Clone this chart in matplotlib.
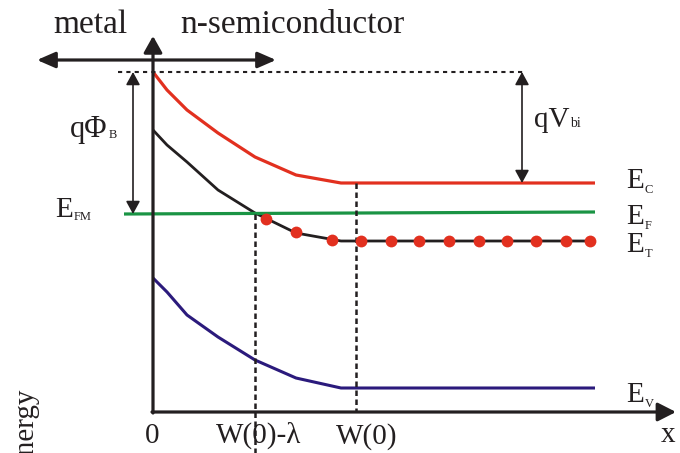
import matplotlib
matplotlib.use("Agg")
import matplotlib.pyplot as plt

plt.rcParams['font.family'] = ['Liberation Serif', 'DejaVu Serif']

# band-bending profile near the metal/n-semiconductor contact
# x measured from the interface, energy measured from the bottom axis
x_band = [0, 14, 34, 65, 102, 143, 188, 442]
E_c = [340, 322, 302, 279, 255, 237, 229, 229]
E_t = [282, 267, 250, 222, 199, 179, 171, 171]
E_v = [134, 120, 97, 75, 52, 34, 24, 24]

x_fermi = [-29, 442]
E_fermi = [198, 200]

# occupied trap states along E_T
x_traps = [113, 143, 179, 208, 238, 266, 296, 326, 354, 383, 413, 437]
E_traps = [193, 180, 172, 171, 171, 171, 171, 171, 171, 171, 171, 171]

x_W0_lambda = 102
x_W0 = 203
E_vacuum = 340

red = '#e2301f'
green = '#1a9444'
navy = '#2b1a7c'
ink = '#231f20'

fig = plt.figure(figsize=(6.8, 4.53), dpi=100)
ax = fig.add_axes([0, 0, 1, 1])
ax.set_xlim(-153, 527)
ax.set_ylim(-41, 412)
ax.axis('off')

# energy and position axes
ax.annotate('', xy=(0, 376), xytext=(0, -1),
            arrowprops=dict(arrowstyle='-|>,head_length=0.5,head_width=0.28',
                            mutation_scale=20, lw=2.3, color=ink,
                            shrinkA=0, shrinkB=0))
ax.annotate('', xy=(523, 0), xytext=(-1, 0),
            arrowprops=dict(arrowstyle='-|>,head_length=0.55,head_width=0.28',
                            mutation_scale=20, lw=2.3, color=ink,
                            shrinkA=0, shrinkB=0))
ax.annotate('', xy=(-116, 352), xytext=(123, 352),
            arrowprops=dict(arrowstyle='<|-|>,head_length=0.55,head_width=0.24',
                            mutation_scale=20, lw=2.3, color=ink,
                            shrinkA=0, shrinkB=0))

# bands
ax.plot(x_band, E_c, color=red, lw=2.3, solid_capstyle='butt')
ax.plot(x_band, E_t, color=ink, lw=2.0, solid_capstyle='butt')
ax.plot(x_band, E_v, color=navy, lw=2.2, solid_capstyle='butt')
ax.plot(x_fermi, E_fermi, color=green, lw=2.3, solid_capstyle='butt')
ax.plot(x_traps, E_traps, 'o', color=red, ms=8.5, mec='none', zorder=5)

# reference lines
ax.plot([-35, 370], [E_vacuum, E_vacuum], color=ink, lw=1.5, dashes=(2, 2))
ax.plot([x_W0_lambda, x_W0_lambda], [E_fermi[0], -41], color=ink, lw=1.8,
        dashes=(2.2, 1.4))
ax.plot([x_W0, x_W0], [E_c[-1], 0], color=ink, lw=1.8, dashes=(2.2, 1.4))

# barrier height and built-in potential
for xa, lo in [(-20, E_fermi[0]), (369, E_c[-1])]:
    ax.annotate('', xy=(xa, lo), xytext=(xa, E_vacuum),
                arrowprops=dict(arrowstyle='<|-|>,head_length=0.55,head_width=0.3',
                                mutation_scale=14, lw=1.2, color=ink,
                                shrinkA=0, shrinkB=0))

renderer = fig.canvas.get_renderer()


def label(x, y, main, sub, size=21, subsize=9, drop=4):
    t = ax.text(x, y, main, fontsize=size, color=ink, ha='left', va='baseline')
    bb = t.get_window_extent(renderer=renderer)
    xs, ys = ax.transData.transform((x, y))
    ax.annotate(sub, xy=(bb.x1, ys), xycoords='figure pixels',
                xytext=(0.5, -drop * 72 / fig.dpi), textcoords='offset points',
                fontsize=subsize, color=ink, ha='left', va='baseline')


ax.text(-100, 379, 'metal', fontsize=24, color=ink, ha='left', va='baseline')
ax.text(27, 379, 'n-semiconductor', fontsize=24, color=ink, ha='left', va='baseline')

label(-83, 275, 'q\u03a6', 'B', size=22, drop=1)
label(381, 285, 'qV', 'bi', size=21, subsize=10, drop=0)
label(-98, 195, 'E', 'FM', drop=3)
label(473, 224, 'E', 'C', drop=5)
label(473, 188, 'E', 'F', drop=5)
label(473, 160, 'E', 'T', drop=5)
label(473, 10, 'E', 'V', drop=5)

ax.text(-1, -31, '0', fontsize=21, color=ink, ha='center', va='baseline')
ax.text(63, -31, 'W(0)-\u03bb', fontsize=21, color=ink, ha='left', va='baseline')
ax.text(214, -32, 'W(0)', fontsize=21, color=ink, ha='center', va='baseline')
ax.text(515, -30, 'x', fontsize=21, color=ink, ha='center', va='baseline')
ax.text(-127, 24, 'Energy', fontsize=21, color=ink, rotation=90,
        ha='center', va='top')

fig.savefig('out.png', dpi=100)
